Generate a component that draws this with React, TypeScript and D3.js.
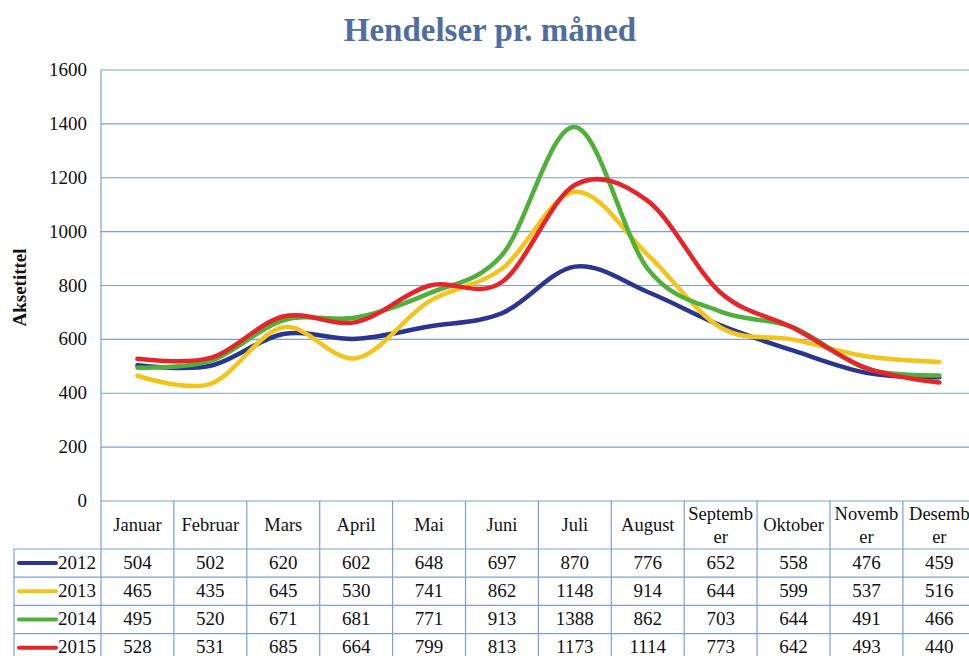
import { useEffect, useRef } from 'react';
import * as d3 from 'd3';

const months = ['Januar', 'Februar', 'Mars', 'April', 'Mai', 'Juni', 'Juli', 'August', 'September', 'Oktober', 'November', 'Desember'];
const monthLabels = [['Januar'], ['Februar'], ['Mars'], ['April'], ['Mai'], ['Juni'], ['Juli'], ['August'], ['Septemb', 'er'], ['Oktober'], ['Novemb', 'er'], ['Desemb', 'er']];
const years = ['2012', '2013', '2014', '2015'];
const v2012 = [504, 502, 620, 602, 648, 697, 870, 776, 652, 558, 476, 459];
const v2013 = [465, 435, 645, 530, 741, 862, 1148, 914, 644, 599, 537, 516];
const v2014 = [495, 520, 671, 681, 771, 913, 1388, 862, 703, 644, 491, 466];
const v2015 = [528, 531, 685, 664, 799, 813, 1173, 1114, 773, 642, 493, 440];
const yTicks = [0, 200, 400, 600, 800, 1000, 1200, 1400, 1600];
const colors = ['#2b3590', '#f2c51c', '#4fb03a', '#e8242b'];

export default function App() {
  const svgRef = useRef<SVGSVGElement>(null);

  useEffect(() => {
    const svg = d3.select(svgRef.current);
    svg.selectAll('*').remove();

    const W = 969, H = 656;
    const left = 101, top = 70, bottom = 501;
    const colW = 72.9;
    const gridColor = '#7f9fd4';
    const font = '"Liberation Serif", "Times New Roman", serif';

    const x = d3.scaleBand().domain(months).range([left, left + colW * 12]).padding(0);
    const y = d3.scaleLinear().domain([0, 1600]).range([bottom, top]);
    const series = [v2012, v2013, v2014, v2015];

    svg.append('rect').attr('width', W).attr('height', H).attr('fill', '#fff');

    // Title
    svg.append('text')
      .attr('x', 490).attr('y', 41)
      .attr('text-anchor', 'middle')
      .style('font-family', font)
      .style('font-size', '33px')
      .style('font-weight', 'bold')
      .attr('fill', '#4f6e9f')
      .text('Hendelser pr. måned');

    // Gridlines
    svg.append('g').selectAll('line')
      .data(yTicks)
      .join('line')
      .attr('x1', left).attr('x2', W)
      .attr('y1', d => y(d)).attr('y2', d => y(d))
      .attr('stroke', gridColor).attr('stroke-width', 1.2);

    // Y tick labels
    svg.append('g').selectAll('text')
      .data(yTicks)
      .join('text')
      .attr('x', 87).attr('y', d => y(d) + 6)
      .attr('text-anchor', 'end')
      .style('font-family', font)
      .style('font-size', '19px')
      .attr('fill', '#111')
      .text(d => d);

    // Axis title
    svg.append('text')
      .attr('transform', `translate(26,${(top + bottom) / 2 + 2}) rotate(-90)`)
      .attr('text-anchor', 'middle')
      .style('font-family', font)
      .style('font-size', '19px')
      .style('font-weight', 'bold')
      .attr('fill', '#111')
      .text('Aksetittel');

    // Data table
    const headerBottom = 549;
    const rowH = 28.2;
    const tbl = svg.append('g');
    tbl.append('line').attr('x1', left).attr('x2', left).attr('y1', top).attr('y2', H)
      .attr('stroke', gridColor).attr('stroke-width', 1.2);
    tbl.selectAll('line.col')
      .data(months)
      .join('line')
      .attr('class', 'col')
      .attr('x1', d => (x(d) as number) + x.bandwidth())
      .attr('x2', d => (x(d) as number) + x.bandwidth())
      .attr('y1', bottom).attr('y2', H)
      .attr('stroke', gridColor).attr('stroke-width', 1.2);
    const rowLines = years.map((_, i) => headerBottom + i * rowH).concat([headerBottom + 4 * rowH]);
    tbl.selectAll('line.row')
      .data(rowLines)
      .join('line')
      .attr('class', 'row')
      .attr('x1', 14).attr('x2', W)
      .attr('y1', d => d).attr('y2', d => d)
      .attr('stroke', gridColor).attr('stroke-width', 1.2);
    tbl.append('line').attr('x1', 14).attr('x2', 14).attr('y1', headerBottom).attr('y2', H)
      .attr('stroke', gridColor).attr('stroke-width', 1.2);

    // header labels
    months.forEach((m, i) => {
      const cx = (x(m) as number) + x.bandwidth() / 2;
      const lines = monthLabels[i];
      const t = tbl.append('text')
        .attr('text-anchor', 'middle')
        .style('font-family', font)
        .style('font-size', '18.5px')
        .attr('fill', '#111');
      if (lines.length === 1) {
        t.append('tspan').attr('x', cx).attr('y', 531).text(lines[0]);
      } else {
        t.append('tspan').attr('x', cx).attr('y', 520).text(lines[0]);
        t.append('tspan').attr('x', cx).attr('y', 543).text(lines[1]);
      }
    });

    // rows
    years.forEach((yr, r) => {
      const rowTop = headerBottom + r * rowH;
      const cy = rowTop + rowH / 2;
      tbl.append('line')
        .attr('x1', 19).attr('x2', 56)
        .attr('y1', cy).attr('y2', cy)
        .attr('stroke', colors[r]).attr('stroke-width', 4).attr('stroke-linecap', 'round');
      tbl.append('text')
        .attr('x', 96).attr('y', cy + 5.5)
        .attr('text-anchor', 'end')
        .style('font-family', font)
        .style('font-size', '19px')
        .attr('fill', '#111')
        .text(yr);
      tbl.selectAll(null)
        .data(series[r])
        .join('text')
        .attr('x', (_, i) => (x(months[i]) as number) + x.bandwidth() / 2)
        .attr('y', cy + 5.5)
        .attr('text-anchor', 'middle')
        .style('font-family', font)
        .style('font-size', '19px')
        .attr('fill', '#111')
        .text(d => d);
    });

    // Lines
    const line = d3.line<number>()
      .x((_, i) => (x(months[i]) as number) + x.bandwidth() / 2)
      .y(d => y(d))
      .curve(d3.curveCardinal.tension(0));

    svg.append('g').selectAll('path')
      .data(series)
      .join('path')
      .attr('d', d => line(d))
      .attr('fill', 'none')
      .attr('stroke', (_, i) => colors[i])
      .attr('stroke-width', 4.5)
      .attr('stroke-linejoin', 'round')
      .attr('stroke-linecap', 'round');
  }, []);

  return (
    <svg ref={svgRef} width={969} height={656}
      style={{ position: 'absolute', left: 0, top: 0, display: 'block' }} />
  );
}
